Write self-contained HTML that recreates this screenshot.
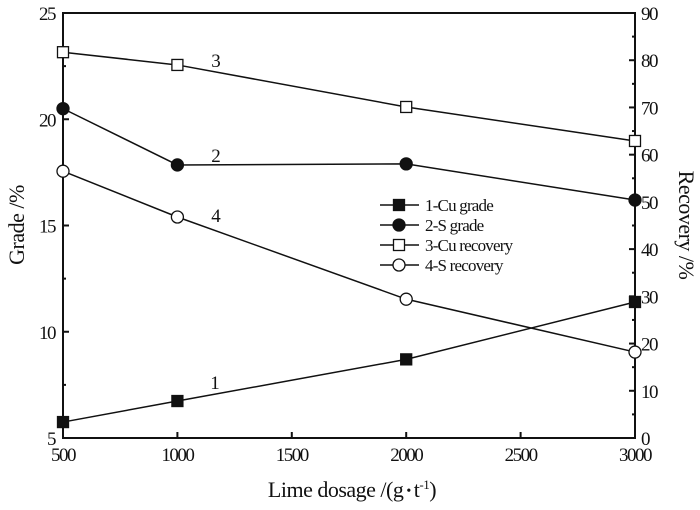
<!DOCTYPE html>
<html><head><meta charset="utf-8"><style>
body{margin:0;background:#fff}
svg text{font-family:"Liberation Serif",serif;fill:#111}
</style></head><body>
<svg id="c" width="700" height="505" xmlns="http://www.w3.org/2000/svg"></svg>
<script>
const categories=[500,1000,2000,3000];
const cuGrade=[5.75,6.74,8.7,11.4];
const sGrade=[20.5,17.85,17.9,16.2];
const cuRecovery=[81.7,79,70.1,62.9];
const sRecovery=[56.5,46.8,29.4,18.2];
const xTicks=[500,1000,1500,2000,2500,3000];
const yLeftTicks=[5,10,15,20,25];
const yRightTicks=[0,10,20,30,40,50,60,70,80,90];
const L=63,R=635,T=13,B=438;
const NS="http://www.w3.org/2000/svg";
const svg=document.getElementById('c');
const x=v=>L+(v-500)/2500*(R-L);
const yl=v=>B-(v-5)/20*(B-T);
const yr=v=>B-v/90*(B-T);
function el(tag,a,parent){const e=document.createElementNS(NS,tag);for(const k in a)e.setAttribute(k,a[k]);(parent||svg).appendChild(e);return e;}
function txt(s,a){const e=el('text',a);e.textContent=s;return e;}
const ax=el('g',{stroke:'#111','stroke-width':2,fill:'none'});


el('rect',{x:L,y:T,width:R-L,height:B-T},ax);
xTicks.forEach(v=>{el('line',{x1:x(v),x2:x(v),y1:B,y2:B-6},ax);
 const t=txt(v,{x:x(v),y:B+23,'text-anchor':'middle','font-size':19,'letter-spacing':-1.5});
 
 });
yLeftTicks.forEach((v,i)=>{el('line',{x1:L,x2:L+6,y1:yl(v),y2:yl(v)},ax);
 if(i<yLeftTicks.length-1)el('line',{x1:L,x2:L+3,y1:yl(v+2.5),y2:yl(v+2.5)},ax);
 const t=txt(v,{x:L-8,y:yl(v)+7,'text-anchor':'end','font-size':19,'letter-spacing':-1.5});
 
 });
yRightTicks.forEach((v,i)=>{el('line',{x1:R,x2:R-6,y1:yr(v),y2:yr(v)},ax);
 if(i<yRightTicks.length-1)el('line',{x1:R,x2:R-3,y1:yr(v+5),y2:yr(v+5)},ax);
 const t=txt(v,{x:R+6,y:yr(v)+7,'font-size':19,'letter-spacing':-1.5});
 
 });
function marker(g,cx,cy,type){
 if(type=='sq'||type=='osq')el('rect',{x:cx-5.5,y:cy-5.5,width:11,height:11,fill:type=='sq'?'#111':'#fff',stroke:'#111','stroke-width':1.3},g);
 else el('circle',{cx:cx,cy:cy,r:6,fill:type=='ci'?'#111':'#fff',stroke:'#111','stroke-width':1.3},g);
}
function series(vals,yf,type,name){
 const g=el('g',{});
 
 
 el('polyline',{points:vals.map((v,i)=>x(categories[i])+','+yf(v)).join(' '),fill:'none',stroke:'#111','stroke-width':1.5},g);
 vals.forEach((v,i)=>marker(g,x(categories[i]),yf(v),type));
}
series(cuGrade,yl,'sq','series-cu-grade');
series(sGrade,yl,'ci','series-s-grade');
series(cuRecovery,yr,'osq','series-cu-recovery');
series(sRecovery,yr,'oc','series-s-recovery');
[['1',215,389],['2',216,162],['3',216,67],['4',216,222]].forEach(a=>{const t=txt(a[0],{x:a[1],y:a[2],'font-size':19,'text-anchor':'middle'});
 
 });
const leg=[['1-Cu grade','sq'],['2-S grade','ci'],['3-Cu recovery','osq'],['4-S recovery','oc']];
leg.forEach((l,i)=>{const g=el('g',{});
 
 
 const yy=205+i*20;
 el('line',{x1:380,x2:419,y1:yy,y2:yy,stroke:'#111','stroke-width':1.5},g);
 marker(g,399,yy,l[1]);
 const t=el('text',{x:425,y:yy+6,'font-size':17,'letter-spacing':-0.8},g);t.textContent=l[0];});
const xt=txt('',{x:352,y:497,'text-anchor':'middle','font-size':22,'letter-spacing':-0.5});
xt.innerHTML='Lime dosage /(g<tspan font-size="14" dy="-2"> • </tspan><tspan dy="2">t</tspan><tspan font-size="13" dy="-8">-1</tspan><tspan dy="8">)</tspan>';


const ylt=txt('Grade /%',{x:0,y:0,'text-anchor':'middle','font-size':22,'letter-spacing':-0.5,transform:'translate(24,225) rotate(-90)'});


const yrt=txt('Recovery /%',{x:0,y:0,'text-anchor':'middle','font-size':22,'letter-spacing':-0.5,transform:'translate(679,225) rotate(90)'});


</script>
</body></html>
